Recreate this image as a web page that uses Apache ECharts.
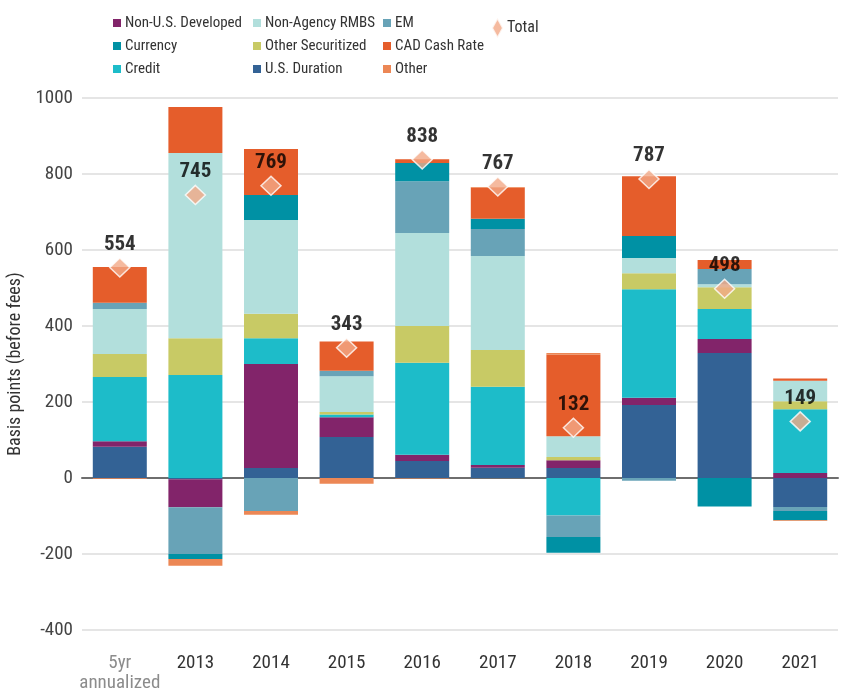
<!DOCTYPE html>
<html>
<head>
<meta charset="utf-8">
<script src="https://cdn.jsdelivr.net/npm/echarts@6/dist/echarts.min.js"></script>
<style>
  html, body { margin: 0; padding: 0; background: #fff; }
</style>
</head>
<body>

<div id="main" style="width: 844px;height:692px;"></div>

<script type="text/javascript">
    // categories and values (basis points)
    var categories = ['5yr\nannualized', '2013', '2014', '2015', '2016', '2017', '2018', '2019', '2020', '2021'];

    var usDuration = [82, -3, 26, 108, 45, 27, 26, 192, 329, -76];
    var nonUSDeveloped = [15, -74, 274, 52, 16, 7, 21, 19, 37, 13];
    var credit = [169, 271, 68, 7, 242, 206, -99, 286, 79, 168];
    var otherSecuritized = [60, 97, 64, 7, 97, 97, 8, 42, 57, 21];
    var nonAgencyRMBS = [119, 487, 247, 94, 245, 247, 55, 40, 8, 54];
    var em = [16, -123, -87, 14, 136, 71, -56, -7, 40, -11];
    var currency = [0, -13, 66, 0, 48, 27, -42, 58, -75, -24];
    var cadCashRate = [94, 121, 121, 77, 10, 82, 215, 157, 24, 6];
    var other = [-2, -18, -10, -15, -1, 2, 4, 0, 0, -2];
    var total = [554, 745, 769, 343, 838, 767, 132, 787, 498, 149];

    var yTicks = [-400, -200, 0, 200, 400, 600, 800, 1000];

    var font = "'Roboto Condensed', Roboto, sans-serif";

    var myChart = echarts.init(document.getElementById('main'));

    function bar(name, data, color) {
        return {
            name: name,
            type: 'bar',
            stack: 'all',
            barWidth: 54,
            data: data,
            itemStyle: { color: color }
        };
    }

    // one legend per column, like the original layout
    function legendCol(left, names) {
        return {
            orient: 'vertical',
            left: left,
            top: 9,
            itemWidth: 8,
            itemHeight: 8,
            itemGap: 5,
            icon: 'rect',
            selectedMode: false,
            data: names,
            textStyle: { fontFamily: font, fontSize: 15, color: '#333', lineHeight: 18, padding: [0, 0, 0, -1] }
        };
    }

    var option = {
        animation: false,
        textStyle: { fontFamily: font },
        legend: [
            legendCol(108, ['Non-U.S. Developed', 'Currency', 'Credit']),
            legendCol(248, ['Non-Agency RMBS', 'Other Securitized', 'U.S. Duration']),
            legendCol(378, ['EM', 'CAD Cash Rate', 'Other']),
            {
                left: 486,
                top: 12,
                itemWidth: 11,
                itemHeight: 20,
                itemGap: 0,
                selectedMode: false,
                data: [{ name: 'Total', icon: 'diamond' }],
                textStyle: { fontFamily: font, fontSize: 16, color: '#333', padding: [4, 0, 0, -1] }
            }
        ],
        grid: { left: 82, right: 6, top: 98, bottom: 62, outerBoundsMode: 'none' },
        xAxis: {
            type: 'category',
            data: categories,
            axisTick: { show: false },
            axisLine: { lineStyle: { color: '#6e6e6e', width: 2 } },
            axisLabel: {
                interval: 0,
                margin: 23,
                fontSize: 19,
                color: '#333',
                lineHeight: 20,
                formatter: function (v) {
                    return v.indexOf('5yr') === 0 ? '{g|' + v.replace('\n', '}\n{g|') + '}' : v;
                },
                rich: { g: { color: '#8c8c8c', fontSize: 19, fontFamily: font, lineHeight: 20 } }
            }
        },
        yAxis: {
            type: 'value',
            min: yTicks[0],
            max: yTicks[yTicks.length - 1],
            interval: 200,
            name: 'Basis points (before fees)',
            nameLocation: 'middle',
            nameRotate: 90,
            nameGap: 46,
            nameTextStyle: { fontSize: 18, color: '#333', fontFamily: font },
            axisLabel: {
                fontSize: 19,
                color: '#444',
                margin: 9,
                formatter: function (v) { return String(v); }
            },
            splitLine: { lineStyle: { color: '#dcdcdc', width: 1.5 } }
        },
        series: [
            bar('U.S. Duration', usDuration, '#336295'),
            bar('Non-U.S. Developed', nonUSDeveloped, '#82246a'),
            bar('Credit', credit, '#1dbcc9'),
            bar('Other Securitized', otherSecuritized, '#c8ca65'),
            bar('Non-Agency RMBS', nonAgencyRMBS, '#b2dfdc'),
            bar('EM', em, '#68a3b7'),
            bar('Currency', currency, '#0091a4'),
            bar('CAD Cash Rate', cadCashRate, '#e55d2b'),
            bar('Other', other, '#ec8755'),
            {
                name: 'Total',
                type: 'scatter',
                symbol: 'diamond',
                symbolSize: [20, 19],
                z: 5,
                data: total,
                itemStyle: { color: '#f2a987', borderColor: '#fff', borderWidth: 1.5 },
                label: {
                    show: true,
                    position: 'top',
                    distance: 2,
                    fontFamily: font,
                    fontSize: 21,
                    fontWeight: 'bold',
                    color: '#000'
                }
            }
        ]
    };

    myChart.setOption(option);
</script>

</body>
</html>
